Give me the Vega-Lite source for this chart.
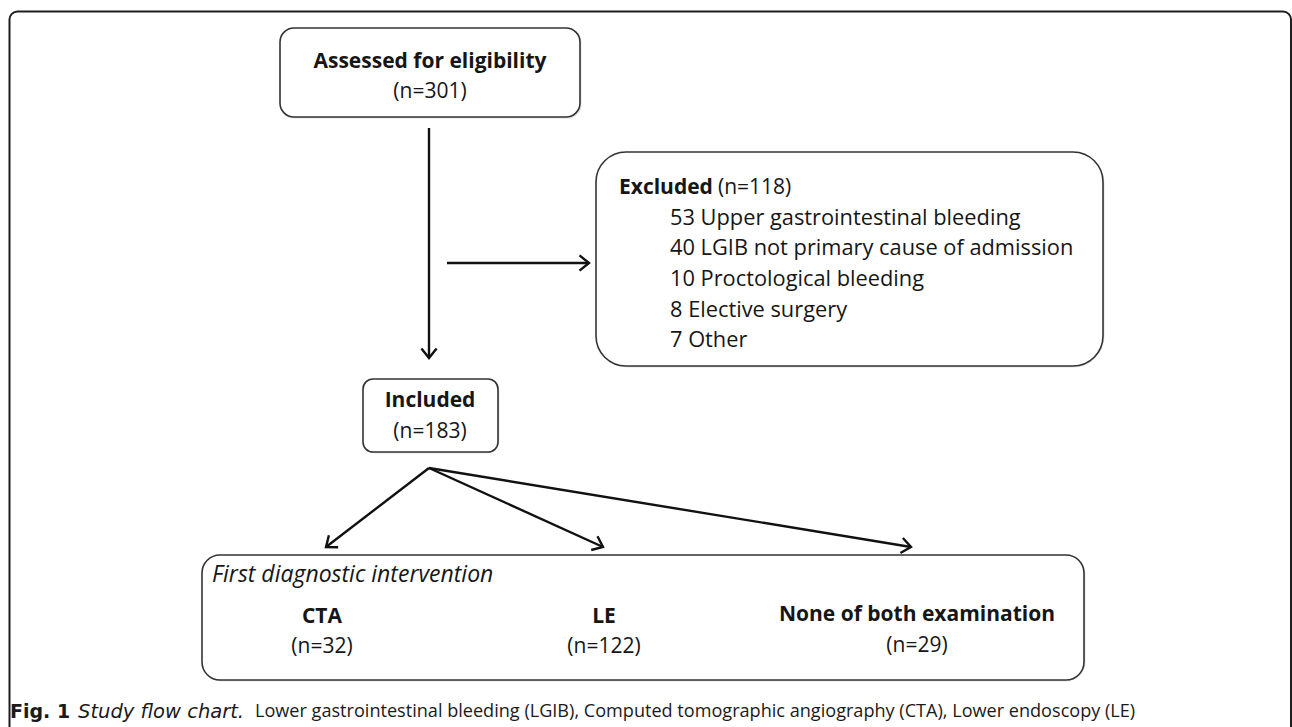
{
  "$schema": "https://vega.github.io/schema/vega-lite/v6.json",
  "width": 1292,
  "height": 727,
  "autosize": {"type": "fit", "contains": "padding"},
  "padding": 0,
  "background": "white",
  "config": {"view": {"stroke": null}},
  "datasets": {
    "boxes": [
      {"box": "frame", "x": 9.5, "x2": 1291, "y": 11.5, "y2": 760},
      {"box": "assessed", "x": 280, "x2": 580, "y": 28, "y2": 117},
      {"box": "excluded", "x": 596, "x2": 1103, "y": 152, "y2": 366},
      {"box": "included", "x": 363, "x2": 498, "y": 379, "y2": 452},
      {"box": "intervention", "x": 202, "x2": 1084, "y": 555, "y2": 680}
    ],
    "arrows": [
      {"link": "assessed-included", "x": 429, "y": 128, "x2": 429, "y2": 358, "angle": 90},
      {"link": "to-excluded", "x": 447, "y": 263, "x2": 589, "y2": 263, "angle": 0},
      {"link": "included-CTA", "x": 429, "y": 468, "x2": 326, "y2": 547, "angle": 142.5},
      {"link": "included-LE", "x": 429, "y": 468, "x2": 603, "y2": 547, "angle": 24.4},
      {"link": "included-none", "x": 429, "y": 468, "x2": 911, "y2": 547, "angle": 9.3}
    ],
    "labels": [
      {"role": "title", "text": "Assessed for eligibility", "x": 430, "y": 62},
      {"role": "count", "text": "(n=301)", "x": 430, "y": 92},
      {"role": "head", "text": "Excluded", "x": 619, "y": 188},
      {"role": "headcount", "text": "(n=118)", "x": 718, "y": 188},
      {"role": "item", "text": "53 Upper gastrointestinal bleeding", "x": 670, "y": 218},
      {"role": "item", "text": "40 LGIB not primary cause of admission", "x": 670, "y": 248},
      {"role": "item", "text": "10 Proctological bleeding", "x": 670, "y": 279},
      {"role": "item", "text": "8 Elective surgery", "x": 670, "y": 310},
      {"role": "item", "text": "7 Other", "x": 670, "y": 340},
      {"role": "title", "text": "Included", "x": 430, "y": 401},
      {"role": "count", "text": "(n=183)", "x": 430, "y": 432},
      {"role": "group", "text": "First diagnostic intervention", "x": 212, "y": 575},
      {"role": "title", "text": "CTA", "x": 322, "y": 617},
      {"role": "count", "text": "(n=32)", "x": 322, "y": 647},
      {"role": "title", "text": "LE", "x": 604, "y": 617},
      {"role": "count", "text": "(n=122)", "x": 604, "y": 647},
      {"role": "title", "text": "None of both examination", "x": 917, "y": 615},
      {"role": "count", "text": "(n=29)", "x": 917, "y": 646},
      {"role": "capfig", "text": "Fig. 1", "x": 10, "y": 712},
      {"role": "capitalic", "text": "Study flow chart.", "x": 78, "y": 712},
      {"role": "capbody", "text": "Lower gastrointestinal bleeding (LGIB), Computed tomographic angiography (CTA), Lower endoscopy (LE)", "x": 255, "y": 712}
    ]
  },
  "encoding": {
    "x": {"field": "x", "type": "quantitative", "scale": {"domain": [0, 1292], "nice": false, "zero": false}, "axis": null},
    "y": {"field": "y", "type": "quantitative", "scale": {"domain": [0, 727], "nice": false, "zero": false, "reverse": true}, "axis": null}
  },
  "layer": [
    {
      "data": {"name": "boxes"},
      "transform": [{"filter": "datum.box === 'frame'"}],
      "mark": {"type": "rect", "fill": "white", "stroke": "#1e1e1e", "strokeWidth": 2, "cornerRadius": 8, "clip": true},
      "encoding": {"x2": {"field": "x2"}, "y2": {"field": "y2"}}
    },
    {
      "data": {"name": "boxes"},
      "transform": [{"filter": "datum.box === 'assessed' || datum.box === 'included'"}],
      "mark": {"type": "rect", "fill": "none", "stroke": "#d0d0d0", "strokeWidth": 3, "strokeOpacity": 0.6, "xOffset": 1.5, "yOffset": 2, "cornerRadius": 12},
      "encoding": {"x2": {"field": "x2"}, "y2": {"field": "y2"}}
    },
    {
      "data": {"name": "boxes"},
      "transform": [{"filter": "datum.box === 'excluded'"}],
      "mark": {"type": "rect", "fill": "none", "stroke": "#d0d0d0", "strokeWidth": 3, "strokeOpacity": 0.6, "xOffset": 1.5, "yOffset": 2, "cornerRadius": 30},
      "encoding": {"x2": {"field": "x2"}, "y2": {"field": "y2"}}
    },
    {
      "data": {"name": "boxes"},
      "transform": [{"filter": "datum.box === 'intervention'"}],
      "mark": {"type": "rect", "fill": "none", "stroke": "#d0d0d0", "strokeWidth": 3, "strokeOpacity": 0.6, "xOffset": 1.5, "yOffset": 2, "cornerRadius": 18},
      "encoding": {"x2": {"field": "x2"}, "y2": {"field": "y2"}}
    },
    {
      "data": {"name": "boxes"},
      "transform": [{"filter": "datum.box === 'assessed'"}],
      "mark": {"type": "rect", "fill": "white", "stroke": "#333333", "strokeWidth": 1.6, "cornerRadius": 14},
      "encoding": {"x2": {"field": "x2"}, "y2": {"field": "y2"}}
    },
    {
      "data": {"name": "boxes"},
      "transform": [{"filter": "datum.box === 'excluded'"}],
      "mark": {"type": "rect", "fill": "white", "stroke": "#333333", "strokeWidth": 1.6, "cornerRadius": 30},
      "encoding": {"x2": {"field": "x2"}, "y2": {"field": "y2"}}
    },
    {
      "data": {"name": "boxes"},
      "transform": [{"filter": "datum.box === 'included'"}],
      "mark": {"type": "rect", "fill": "white", "stroke": "#333333", "strokeWidth": 1.6, "cornerRadius": 10},
      "encoding": {"x2": {"field": "x2"}, "y2": {"field": "y2"}}
    },
    {
      "data": {"name": "boxes"},
      "transform": [{"filter": "datum.box === 'intervention'"}],
      "mark": {"type": "rect", "fill": "white", "stroke": "#333333", "strokeWidth": 1.6, "cornerRadius": 18},
      "encoding": {"x2": {"field": "x2"}, "y2": {"field": "y2"}}
    },
    {
      "data": {"name": "arrows"},
      "mark": {"type": "rule", "color": "#111111", "strokeWidth": 2.4},
      "encoding": {"x2": {"field": "x2"}, "y2": {"field": "y2"}}
    },
    {
      "data": {"name": "arrows"},
      "mark": {"type": "point", "shape": "M -1 -0.8 L 0 0 L -1 0.8", "filled": false, "stroke": "#111111", "strokeWidth": 2.4, "size": 360, "opacity": 1, "strokeJoin": "miter"},
      "encoding": {
        "x": {"field": "x2", "type": "quantitative"},
        "y": {"field": "y2", "type": "quantitative"},
        "angle": {"field": "angle", "type": "quantitative", "scale": null}
      }
    },
    {
      "data": {"name": "labels"},
      "transform": [{"filter": "datum.role === 'title'"}],
      "mark": {"type": "text", "font": "Open Sans", "fontWeight": "bold", "fontSize": 21, "align": "center", "baseline": "middle", "color": "#161616"},
      "encoding": {"text": {"field": "text"}}
    },
    {
      "data": {"name": "labels"},
      "transform": [{"filter": "datum.role === 'count'"}],
      "mark": {"type": "text", "font": "Open Sans", "fontSize": 21, "align": "center", "baseline": "middle", "color": "#161616"},
      "encoding": {"text": {"field": "text"}}
    },
    {
      "data": {"name": "labels"},
      "transform": [{"filter": "datum.role === 'head'"}],
      "mark": {"type": "text", "font": "Open Sans", "fontWeight": "bold", "fontSize": 21, "align": "left", "baseline": "middle", "color": "#161616"},
      "encoding": {"text": {"field": "text"}}
    },
    {
      "data": {"name": "labels"},
      "transform": [{"filter": "datum.role === 'headcount'"}],
      "mark": {"type": "text", "font": "Open Sans", "fontSize": 21, "align": "left", "baseline": "middle", "color": "#161616"},
      "encoding": {"text": {"field": "text"}}
    },
    {
      "data": {"name": "labels"},
      "transform": [{"filter": "datum.role === 'item'"}],
      "mark": {"type": "text", "font": "Open Sans", "fontSize": 21.8, "align": "left", "baseline": "middle", "color": "#161616"},
      "encoding": {"text": {"field": "text"}}
    },
    {
      "data": {"name": "labels"},
      "transform": [{"filter": "datum.role === 'group'"}],
      "mark": {"type": "text", "font": "Open Sans", "fontStyle": "italic", "fontSize": 23, "align": "left", "baseline": "middle", "color": "#161616"},
      "encoding": {"text": {"field": "text"}}
    },
    {
      "data": {"name": "labels"},
      "transform": [{"filter": "datum.role === 'capfig'"}],
      "mark": {"type": "text", "font": "DejaVu Sans", "fontWeight": "bold", "fontSize": 19, "align": "left", "baseline": "middle", "color": "#1a1a1a"},
      "encoding": {"text": {"field": "text"}}
    },
    {
      "data": {"name": "labels"},
      "transform": [{"filter": "datum.role === 'capitalic'"}],
      "mark": {"type": "text", "font": "DejaVu Sans", "fontStyle": "italic", "fontSize": 19.5, "align": "left", "baseline": "middle", "color": "#1a1a1a"},
      "encoding": {"text": {"field": "text"}}
    },
    {
      "data": {"name": "labels"},
      "transform": [{"filter": "datum.role === 'capbody'"}],
      "mark": {"type": "text", "font": "Open Sans", "fontSize": 18.1, "align": "left", "baseline": "middle", "color": "#1a1a1a"},
      "encoding": {"text": {"field": "text"}}
    }
  ]
}
